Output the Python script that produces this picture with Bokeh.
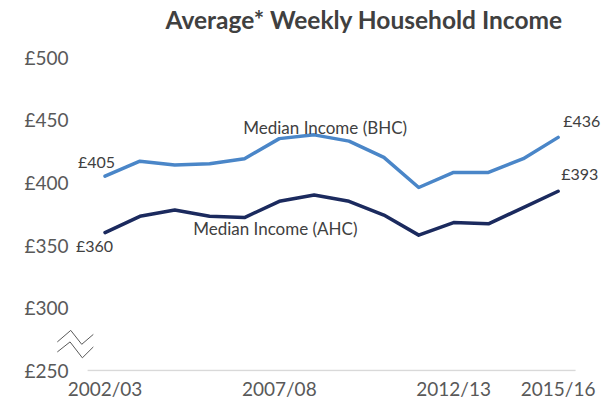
from bokeh.plotting import figure
from bokeh.models import Range1d, FixedTicker, Label
from bokeh.embed import file_html
from bokeh.resources import INLINE

# ---- data ----
years = ["2002/03", "2003/04", "2004/05", "2005/06", "2006/07", "2007/08", "2008/09",
         "2009/10", "2010/11", "2011/12", "2012/13", "2013/14", "2014/15", "2015/16"]
bhc = [405, 417, 414, 415, 419, 435, 438, 433, 420, 396, 408, 408, 419, 436]
ahc = [360, 373, 378, 373, 372, 385, 390, 385, 374, 358, 368, 367, 380, 393]
x_tick_labels = ["2002/03", "2007/08", "2012/13", "2015/16"]
y_ticks = [250, 300, 350, 400, 450, 500]
y_tick_labels = ["£250", "£300", "£350", "£400", "£450", "£500"]
series_names = ["Median Income (BHC)", "Median Income (AHC)"]
title_text = "Average* Weekly Household Income"

FONT = "Lato"
BHC_COLOR = "#4A86C8"
AHC_COLOR = "#1B2A5E"
AXIS_TXT = "#595959"
LBL_TXT = "#404040"

idx = list(range(len(years)))
n = len(years)

# frame spans the full canvas height above the axis; the top part holds the title
p = figure(width=604, height=402, output_backend="svg", toolbar_location=None,
           x_range=Range1d(-1.45, 14.33), y_range=Range1d(249.2, 545.2),
           min_border_left=54, min_border_right=0, min_border_top=0, min_border_bottom=29)
p.title.visible = False
p.outline_line_color = None
p.grid.visible = False
p.background_fill_color = "white"
p.border_fill_color = "white"

# x axis (category labels)
xax = p.xaxis[0]
x_label_pos = [years.index(t) for t in x_tick_labels]
xax.ticker = FixedTicker(ticks=x_label_pos)
xax.major_label_overrides = {i: t for i, t in zip(x_label_pos, x_tick_labels)}
xax.axis_line_color = None
xax.major_tick_line_color = None
xax.minor_tick_line_color = None
xax.major_tick_out = 0
xax.minor_tick_out = 0
xax.major_label_text_font = FONT
xax.major_label_text_font_size = "19px"
xax.major_label_text_color = AXIS_TXT
xax.major_label_standoff = 5

# y axis
yax = p.yaxis[0]
yax.ticker = FixedTicker(ticks=y_ticks)
yax.major_label_overrides = {t: l for t, l in zip(y_ticks, y_tick_labels)}
yax.axis_line_color = None
yax.major_tick_line_color = None
yax.minor_tick_line_color = None
yax.major_tick_out = 0
yax.minor_tick_out = 0
yax.major_label_text_font = FONT
yax.major_label_text_font_size = "19px"
yax.major_label_text_color = AXIS_TXT
yax.major_label_standoff = -14

# baseline axis line across the categories
p.segment(x0=[-0.5], y0=[y_ticks[0]], x1=[n - 0.5], y1=[y_ticks[0]],
          line_color="#D9D9D9", line_width=1.5)

# axis break symbol
p.multi_line(xs=[[-1.369, -0.984, -0.669, -0.336], [-1.369, -1.004, -0.651, -0.336]],
             ys=[[272.8, 282.0, 270.9, 278.8], [264.8, 272.8, 260.1, 268.8]],
             line_color="#595959", line_width=1)

# lines
p.line(idx, bhc, line_color=BHC_COLOR, line_width=3.5, line_join="round", line_cap="round")
p.line(idx, ahc, line_color=AHC_COLOR, line_width=3.5, line_join="round", line_cap="round")

def lab(x, y, text, align, xo, yo, size="16px"):
    p.add_layout(Label(x=x, y=y, text=text, text_align=align, text_baseline="middle",
                       x_offset=xo, y_offset=yo, text_font=FONT, text_font_size=size,
                       text_color=LBL_TXT))

lab(0, bhc[0], f"£{bhc[0]}", "right", 10, 15)
lab(0, ahc[0], f"£{ahc[0]}", "right", 8, -13)
lab(n - 1, bhc[-1], f"£{bhc[-1]}", "left", 5, 17)
lab(n - 1, ahc[-1], f"£{ahc[-1]}", "left", 3, 17.5)
lab(6, bhc[6], series_names[0], "center", 11, 7, "17px")
lab(5, ahc[5], series_names[1], "center", -4, -27, "17px")

# title (screen units, measured from the frame's left / bottom edges)
p.add_layout(Label(x=111, y=352, x_units="screen", y_units="screen", text=title_text,
                   text_align="left", text_baseline="alphabetic", text_font=FONT,
                   text_font_style="bold", text_font_size="24.5px", text_color=LBL_TXT))

open("out.html", "w").write(file_html(p, INLINE))
